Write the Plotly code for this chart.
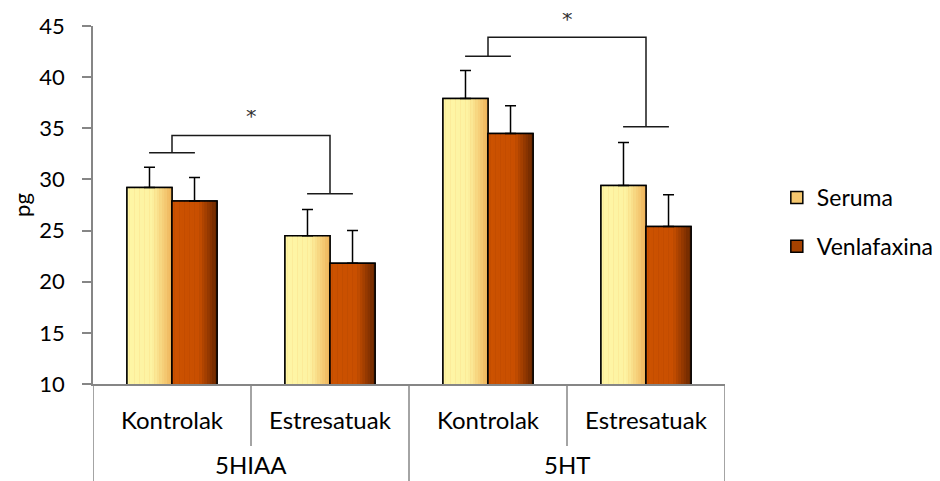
import plotly.graph_objects as go

# ---- data ----
categories = ["Kontrolak", "Estresatuak", "Kontrolak", "Estresatuak"]
groups = ["5HIAA", "5HT"]
seruma = [29.2, 24.5, 37.9, 29.4]
seruma_err = [2.0, 2.55, 2.75, 4.2]
venla = [27.9, 21.8, 34.5, 25.4]
venla_err = [2.3, 3.2, 2.7, 3.1]
series_names = ["Seruma", "Venlafaxina"]

# significance brackets: (left pos, right pos, left y, top y, right y)
br_left = [0, 2]
br_right = [1, 3]
br_left_y = [32.6, 42.05]
br_top_y = [34.3, 43.9]
br_right_y = [28.6, 35.15]
star_y = [36.1, 45.6]

Y_MIN, Y_MAX = 10, 45
FONT = "Lato"
BW = 0.285
xs = list(range(len(categories)))


def lerp(c1, c2, t):
    a = [int(c1[i:i + 2], 16) for i in (1, 3, 5)]
    b = [int(c2[i:i + 2], 16) for i in (1, 3, 5)]
    return "#" + "".join(f"{round(a[k] + (b[k] - a[k]) * t):02x}" for k in range(3))


def grad(stops, f):
    for (f0, c0), (f1, c1) in zip(stops, stops[1:]):
        if f0 <= f <= f1:
            return lerp(c0, c1, (f - f0) / (f1 - f0) if f1 > f0 else 0)
    return stops[-1][1]


grads = [
    [(0, "#fef6a6"), (0.55, "#fdf3a2"), (0.8, "#f6d07a"), (1, "#eeb158")],
    [(0, "#cc5200"), (0.6, "#c94f00"), (0.85, "#8a3400"), (1, "#642600")],
]
base_cols = ["#f5c76e", "#a54200"]
offsets = [-BW, 0]
vals = [seruma, venla]
errs = [seruma_err, venla_err]

fig = go.Figure()
N = 18
for s in range(2):
    fig.add_trace(go.Bar(
        x=xs, y=vals[s], width=BW, offset=offsets[s],
        marker=dict(color=base_cols[s], line=dict(color="black", width=1.5)),
        name=series_names[s], legendgroup=series_names[s], showlegend=True,
        hoverinfo="skip"))
    for i in range(N):
        f = (i + 0.5) / N
        fig.add_trace(go.Bar(
            x=xs, y=vals[s], width=BW / N * 1.05, offset=offsets[s] + BW * i / N,
            marker=dict(color=grad(grads[s], f), line=dict(width=0)),
            showlegend=False, hoverinfo="skip"))
    fig.add_trace(go.Bar(
        x=xs, y=vals[s], width=BW, offset=offsets[s],
        marker=dict(color="rgba(0,0,0,0)", line=dict(color="black", width=1.5)),
        error_y=dict(type="data", array=errs[s], symmetric=False, arrayminus=[0] * 4,
                     color="black", thickness=1.5, width=5.5),
        showlegend=False, hoverinfo="skip"))

# brackets
hw = 0.145
bx, by = [], []
for L, R, ly, ty, ry in zip(br_left, br_right, br_left_y, br_top_y, br_right_y):
    bx += [L - hw, L + hw, None, L, L, R, R, None, R - hw, R + hw, None]
    by += [ly, ly, None, ly, ty, ty, ry, None, ry, ry, None]
fig.add_trace(go.Scatter(x=bx, y=by, mode="lines", line=dict(color="#1a1a1a", width=1.5),
                         showlegend=False, hoverinfo="skip", cliponaxis=False))

for L, R, sy in zip(br_left, br_right, star_y):
    fig.add_annotation(x=(L + R) / 2, y=(sy - Y_MIN) / (Y_MAX - Y_MIN), xref="x", yref="paper",
                       text="*", showarrow=False, yanchor="middle", height=14,
                       valign="middle", borderpad=0,
                       font=dict(family="DejaVu Sans", size=21, color="#333333"))

# category axis labels and dividers
AX = "#868686"
for i, c in enumerate(categories):
    fig.add_annotation(x=i, y=-0.1, xref="x", yref="paper", text=c, showarrow=False,
                       font=dict(family=FONT, size=24, color="black"), yanchor="middle")
for g, name in enumerate(groups):
    fig.add_annotation(x=2 * g + 0.5, y=-0.226, xref="x", yref="paper", text=name,
                       showarrow=False, font=dict(family=FONT, size=24, color="black"),
                       yanchor="middle")
for p in [-0.5, 1.5, 3.5]:
    fig.add_shape(type="line", x0=p, x1=p, xref="x", yref="paper", y0=0, y1=-0.275,
                  line=dict(color=AX, width=1.5))
for p in [0.5, 2.5]:
    fig.add_shape(type="line", x0=p, x1=p, xref="x", yref="paper", y0=0, y1=-0.173,
                  line=dict(color=AX, width=1.5))

fig.update_layout(
    width=940, height=481,
    margin=dict(l=85, r=223, t=18, b=105, autoexpand=False),
    plot_bgcolor="white", paper_bgcolor="white",
    barmode="overlay",
    font=dict(family=FONT, size=22, color="black"),
    xaxis=dict(range=[-0.5, 3.5], showticklabels=False, ticks="", showgrid=False,
               zeroline=False, showline=True, linecolor=AX, linewidth=1.5,
               automargin=False),
    yaxis=dict(range=[Y_MIN, Y_MAX], dtick=5, tick0=10, showgrid=False, zeroline=False,
               showline=True, linecolor=AX, linewidth=1.5, ticks="outside",
               ticklen=9, tickcolor=AX, tickwidth=1.5, ticklabelstandoff=13,
               tickfont=dict(family=FONT, size=22), automargin=False,
               title=dict(text="pg", font=dict(family=FONT, size=22), standoff=12)),
    legend=dict(x=1.082, y=0.4525, xanchor="left", yanchor="middle",
                font=dict(family=FONT, size=23), tracegroupgap=16,
                itemwidth=30),
    showlegend=True,
)

fig.write_html("out.html")
